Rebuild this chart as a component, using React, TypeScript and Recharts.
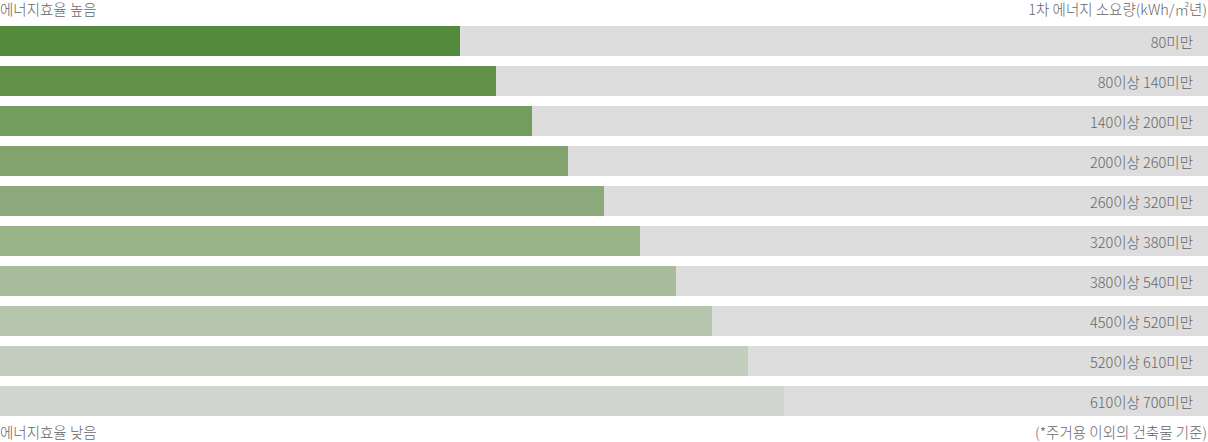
import { BarChart, Bar, XAxis, YAxis, Cell, LabelList } from 'recharts'

// 1차 에너지 소요량 구간 (kWh/㎡년)
const RANGES = [
  '80미만',
  '80이상 140미만',
  '140이상 200미만',
  '200이상 260미만',
  '260이상 320미만',
  '320이상 380미만',
  '380이상 540미만',
  '450이상 520미만',
  '520이상 610미만',
  '610이상 700미만',
]

// bar length as % of full track
const LENGTHS = [38.08, 41.06, 44.04, 47.02, 50.0, 52.98, 55.96, 58.94, 61.92, 64.9]

const COLORS = [
  '#548a3c',
  '#62924a',
  '#739d5c',
  '#82a36d',
  '#8ba97b',
  '#9ab48a',
  '#a8bc9c',
  '#b6c5ae',
  '#c2cdbe',
  '#d0d6cf',
]

const TRACK_COLOR = '#dddddd'
const TEXT_COLOR = '#666666'
const FONT = '"Noto Sans CJK KR", "Noto Sans", sans-serif'

const W = 1208
const H = 442

const data = RANGES.map((range, i) => ({ range, value: LENGTHS[i] }))

function RangeLabel(props: any) {
  const { y, height, value } = props
  return (
    <text
      x={W - 15}
      y={y + height / 2}
      textAnchor="end"
      dominantBaseline="central"
      fill={TEXT_COLOR}
      fontSize={14.5}
      fontWeight={300}
      fontFamily={FONT}
    >
      {value}
    </text>
  )
}

const cornerText = {
  position: 'absolute' as const,
  fontFamily: FONT,
  fontSize: 14.5,
  fontWeight: 300,
  color: TEXT_COLOR,
  lineHeight: '18px',
  whiteSpace: 'nowrap' as const,
}

export default function App() {
  return (
    <div style={{ position: 'absolute', left: 0, top: 0, width: W, height: H, background: '#fff' }}>
      <BarChart
        width={W}
        height={H}
        data={data}
        layout="vertical"
        margin={{ top: 21, right: 0, bottom: 21, left: 0 }}
        barCategoryGap={10}
      >
        <XAxis type="number" domain={[0, 100]} hide />
        <YAxis type="category" dataKey="range" hide />
        <Bar
          dataKey="value"
          barSize={30}
          background={{ fill: TRACK_COLOR }}
          isAnimationActive={false}
        >
          {data.map((d, i) => (
            <Cell key={d.range} fill={COLORS[i]} />
          ))}
          <LabelList dataKey="range" content={<RangeLabel />} />
        </Bar>
      </BarChart>

      <div style={{ ...cornerText, left: 0, top: 0 }}>에너지효율 높음</div>
      <div style={{ ...cornerText, right: 1, top: 0 }}>1차 에너지 소요량(kWh/㎡년)</div>
      <div style={{ ...cornerText, left: 0, top: 423 }}>에너지효율 낮음</div>
      <div style={{ ...cornerText, right: 1, top: 423 }}>(*주거용 이외의 건축물 기준)</div>
    </div>
  )
}
